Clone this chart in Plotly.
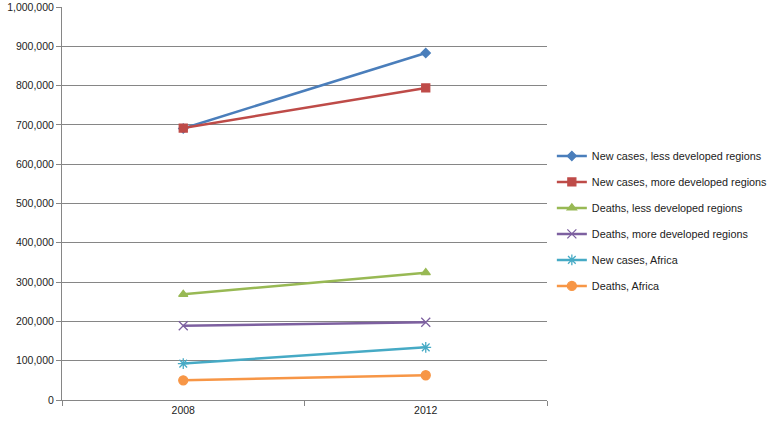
import plotly.graph_objects as go

years = ["2008", "2012"]
series_names = [
    "New cases, less developed regions",
    "New cases, more developed regions",
    "Deaths, less developed regions",
    "Deaths, more developed regions",
    "New cases, Africa",
    "Deaths, Africa",
]
new_less = [691000, 883000]
new_more = [692000, 794000]
deaths_less = [269000, 324000]
deaths_more = [189000, 198000]
new_africa = [92600, 134000]
deaths_africa = [50000, 63000]

values = [new_less, new_more, deaths_less, deaths_more, new_africa, deaths_africa]
colors = ["#4A7EBB", "#BE4B48", "#98B954", "#7D60A0", "#46AAC5", "#F79646"]
symbols = ["diamond", "square", "triangle-up", "x-thin", "asterisk", "circle"]
sizes = [7, 8, 8, 9, 9, 9]

fig = go.Figure()
for i, (name, vals) in enumerate(zip(series_names, values)):
    fig.add_trace(go.Scatter(
        x=years, y=vals, name=name, mode="lines+markers",
        legendgroup=f"g{i}",
        line=dict(color=colors[i], width=2.5),
        marker=dict(symbol=symbols[i], size=sizes[i], color=colors[i],
                    line=dict(color=colors[i], width=1.3)),
    ))

fig.update_layout(
    width=772, height=422,
    margin=dict(l=62, r=225, t=7, b=22, autoexpand=False),
    paper_bgcolor="white", plot_bgcolor="white",
    font=dict(family="Liberation Sans, Arial, sans-serif", size=10.5, color="#222222"),
    showlegend=True,
    legend=dict(x=1.01, y=0.658, xanchor="left", yanchor="top",
                font=dict(size=10.8, color="#222222"), tracegroupgap=7,
                bgcolor="rgba(0,0,0,0)"),
)
fig.update_xaxes(
    type="category", range=[-0.5, 1.5], automargin=False,
    showline=True, linecolor="#868686", linewidth=1,
    ticks="outside", tickson="boundaries", ticklen=5, tickcolor="#868686",
    showgrid=False, tickfont=dict(size=10.5),
)
fig.update_yaxes(
    range=[0, 1000000], dtick=100000, tickformat=",d", automargin=False,
    showline=True, linecolor="#868686", linewidth=1,
    ticks="outside", ticklen=5, tickcolor="#868686",
    showgrid=True, gridcolor="#868686", gridwidth=1,
    zeroline=False, tickfont=dict(size=10.5),
)

fig.write_html("out.html", config={"displayModeBar": False},
               post_script="document.body.style.margin='0';")
